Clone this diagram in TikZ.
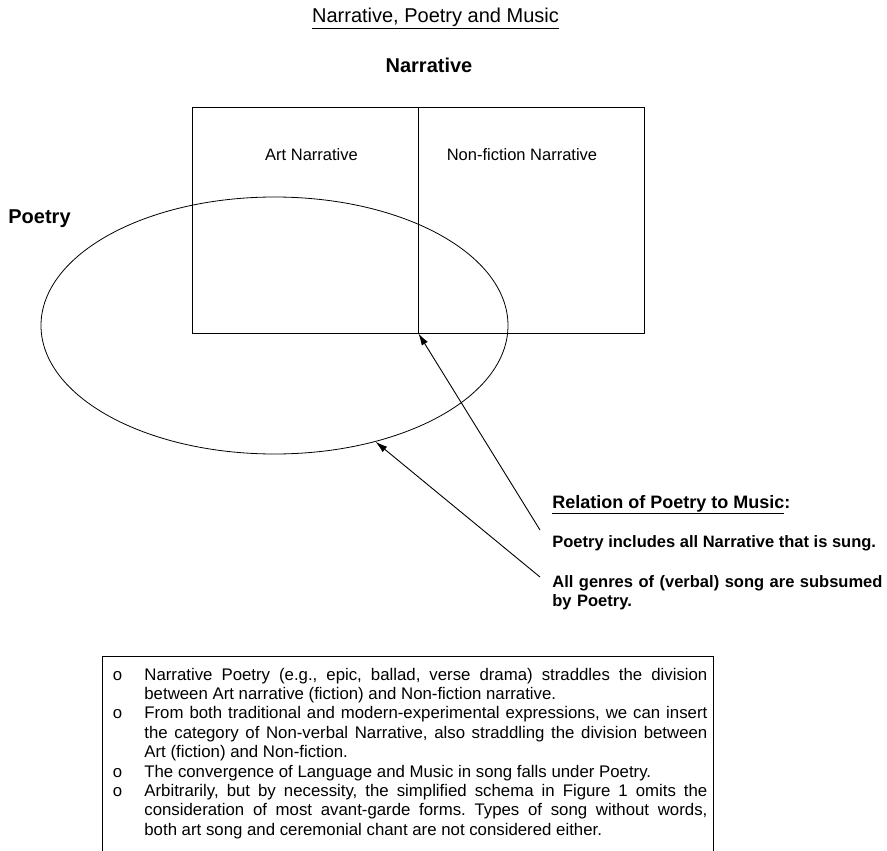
\documentclass[tikz,border=0pt]{standalone}
\usepackage{fontspec}
\setmainfont{Liberation Sans}
\usetikzlibrary{shapes.geometric,arrows.meta}

\frenchspacing
\newcommand{\noteitem}{\hangindent=31.5pt\hangafter=1\noindent\makebox[31.5pt][l]{o}}

\begin{document}
\begin{tikzpicture}[x=1pt,y=-1pt,line width=0.8pt]

%
% Styles
%
\tikzstyle{cell} = [rectangle,draw,minimum width=226pt,minimum height=226pt,inner sep=0pt]
\tikzstyle{genre} = [ellipse,draw,minimum width=467pt,minimum height=257pt,inner sep=0pt]
\tikzstyle{heading} = [inner sep=0pt,font=\bfseries\fontsize{20}{24}\selectfont]
\tikzstyle{celltext} = [inner sep=0pt,anchor=base,font=\fontsize{16.5}{20}\selectfont]
\tikzstyle{relation} = [inner sep=0pt,anchor=base west,font=\bfseries\fontsize{16.5}{19}\selectfont]
\tikzstyle{notes} = [inner sep=0pt,anchor=base west,text width=594.5pt,align=justify,font=\fontsize{16.8}{19.4}\selectfont]
\tikzstyle{pointer} = [-{Latex[length=12pt,width=7pt]},line width=0.9pt]

\useasboundingbox (0,0) rectangle (887,851);
\clip (0,0) rectangle (887,851);

\node[inner sep=0pt,anchor=base,font=\fontsize{20}{24}\selectfont] (title) at (435.5,23) {\underline{Narrative, Poetry and Music}};
\node[heading,anchor=base] (narrative) at (429,73) {Narrative};
\node[heading,anchor=base west] (poetry) at (8,223) {Poetry};

\node[cell] (art) at (305,220) {};
\node[cell] (nonfiction) at (531,220) {};
\node[celltext] (artlabel) at (311.5,160) {Art Narrative};
\node[celltext] (nonfictionlabel) at (522,160) {Non-fiction Narrative};

\node[genre] (poetryset) at (274.5,325.5) {};

\node[relation,font=\bfseries\fontsize{18}{21}\selectfont] (relation) at (552,508) {\underline{Relation of Poetry to Music}:};
\node[relation] (sung) at (552,547) {Poetry includes all Narrative that is sung.};
\node[relation,text width=420pt,align=left] (subsumed) at (552,587) {All genres of (verbal) song are subsumed\\by Poetry.};

\coordinate (sungtail) at (540,530);
\coordinate (subsumedtail) at (540,577);
\draw[pointer] (sungtail) -- (art.south east);
\draw[pointer] (subsumedtail) -- (poetryset.-49);

\draw (102,656) rectangle (713,880);
\node[notes] (notelist) at (112.5,680) {\hyphenpenalty=10000
\noteitem Narrative Poetry (e.g., epic, ballad, verse drama) straddles the division\linebreak between Art narrative (fiction) and Non-fiction narrative.\par
\noteitem From both traditional and modern-experimental expressions, we can insert\linebreak the category of Non-verbal Narrative, also straddling the division between\linebreak Art (fiction) and Non-fiction.\par
\noteitem The convergence of Language and Music in song falls under Poetry.\par
\noteitem Arbitrarily, but by necessity, the simplified schema in Figure 1 omits the\linebreak consideration of most avant-garde forms. Types of song without words,\linebreak both art song and ceremonial chant are not considered either.\par};

\end{tikzpicture}
\end{document}
